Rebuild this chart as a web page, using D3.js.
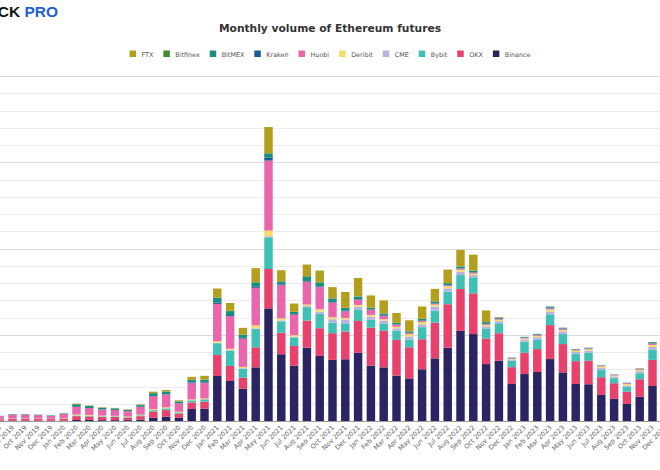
<!DOCTYPE html>
<html><head><meta charset="utf-8">
<script src="https://cdn.jsdelivr.net/npm/d3@7"></script>
<style>body{margin:0;background:#fff}svg{display:block}</style>
</head><body>
<svg id="chart" width="660" height="470"></svg>
<script>
const months = ["Aug 2019","Sep 2019","Oct 2019","Nov 2019","Dec 2019",
"Jan 2020","Feb 2020","Mar 2020","Apr 2020","May 2020","Jun 2020","Jul 2020","Aug 2020","Sep 2020","Oct 2020","Nov 2020","Dec 2020",
"Jan 2021","Feb 2021","Mar 2021","Apr 2021","May 2021","Jun 2021","Jul 2021","Aug 2021","Sep 2021","Oct 2021","Nov 2021","Dec 2021",
"Jan 2022","Feb 2022","Mar 2022","Apr 2022","May 2022","Jun 2022","Jul 2022","Aug 2022","Sep 2022","Oct 2022","Nov 2022","Dec 2022",
"Jan 2023","Feb 2023","Mar 2023","Apr 2023","May 2023","Jun 2023","Jul 2023","Aug 2023","Sep 2023","Oct 2023","Nov 2023","Dec 2023"];

// Monthly volume, billions USD
const binance = [1,1,1,1,1,2,
 6,6,5,5,5,8,20,25,18,70,72,
 261,232,187,311,653,387,321,425,377,354,358,396,
 321,311,263,247,300,363,425,522,504,330,350,215,
 272,284,359,282,215,213,151,128,99,141,203,300];
const okx = [9,12,12,11,10,13,
 22,20,18,18,15,20,35,38,25,38,40,
 122,87,64,116,228,125,114,157,161,155,160,184,
 220,212,207,180,174,207,252,243,236,149,159,97,
 124,133,197,164,132,137,103,91,71,101,151,200];
const bybit = [1,1,1,1,1,1,
 4,5,4,4,3,5,8,10,7,12,14,
 68,89,52,106,184,66,50,78,83,61,48,64,
 45,43,54,46,70,70,73,81,93,58,58,37,
 64,56,62,58,41,46,42,29,29,35,58,75];
const cme = [0,0,0,0,0,0,
 0,0,0,0,0,0,0,0,0,0,0,
 2,3,3,4,6,5,4,6,13,20,23,19,
 19,16,13,17,17,23,19,19,13,12,12,8,
 12,13,17,16,12,12,12,10,8,12,17,25];
const deribit = [1,1,1,1,1,2,
 5,4,4,3,3,4,6,6,4,5,5,
 9,8,8,17,33,12,8,9,14,12,8,10,
 10,8,10,13,13,12,12,12,8,8,8,4,
 6,8,12,8,8,8,8,6,8,8,12,15];
const huobi = [16,22,22,20,17,22,
 45,40,36,34,31,45,75,75,48,95,90,
 217,189,164,218,406,193,120,133,128,85,39,29,
 29,19,12,6,6,6,6,6,6,4,4,3,
 4,4,6,6,4,4,4,3,4,4,8,10];
const kraken = [0,0,0,0,0,0,
 0,0,0,0,0,0,1,1,1,3,3,
 9,6,4,6,17,4,3,4,4,3,3,3,
 2,2,2,2,2,2,2,2,2,2,2,1,
 2,2,4,2,2,2,1,1,1,1,2,2];
const bitmex = [2,3,3,3,3,4,
 15,12,10,9,7,10,16,15,10,15,15,
 26,23,17,25,22,16,12,26,23,20,16,16,
 10,12,8,8,10,10,10,10,10,10,6,2,
 3,4,6,4,2,2,1,1,1,2,6,8];
const bitfinex = [0,0,0,0,0,0,
 1,1,1,1,1,1,1,1,1,1,1,
 2,2,2,2,4,2,1,2,2,2,2,2,
 1,1,1,1,1,1,1,1,1,1,1,1,
 1,1,1,1,1,1,1,1,1,1,1,1];
const ftx = [0,0,0,0,0,1,
 3,2,2,2,2,3,8,9,6,17,22,
 52,45,39,81,151,64,48,67,67,64,91,106,
 71,75,56,64,71,72,78,96,91,67,3,0,
 0,0,0,0,0,0,0,0,0,0,0,0];

const seriesNames = ["Binance","OKX","Bybit","CME","Deribit","Huobi","Kraken","BitMEX","Bitfinex","FTX"];
const seriesValues = [binance, okx, bybit, cme, deribit, huobi, kraken, bitmex, bitfinex, ftx];
const seriesColors = ["#2b2462","#e8416c","#40c0b4","#b9b3e3","#f4dc6c","#e966ac","#1c5a93","#1c8c80","#3d8f2e","#b29f1e"];
const yTicks = d3.range(0, 2001, 100);

const title = "Monthly volume of Ethereum futures";

const table = months.map((m, i) => {
  const row = {month: m};
  seriesNames.forEach((s, k) => row[s] = seriesValues[k][i]);
  return row;
});

const svg = d3.select("#chart");
const x = d3.scaleBand().domain(months).range([-6.7, 671.7]).paddingInner(0.34).paddingOuter(0.17);
const y = d3.scaleLinear().domain([0, 2000]).range([421, 76]);
const color = d3.scaleOrdinal().domain(seriesNames).range(seriesColors);

// grid
svg.append("g").selectAll("line").data(yTicks.slice(1)).join("line")
  .attr("x1", 0).attr("x2", 660)
  .attr("y1", d => Math.round(y(d)) + 0.5).attr("y2", d => Math.round(y(d)) + 0.5)
  .attr("stroke", d => d % 500 === 0 ? "#dcdcdc" : "#ececec")
  .attr("stroke-width", 1);

// bars
const stack = d3.stack().keys(seriesNames)(table);
svg.append("g").selectAll("g").data(stack).join("g")
  .attr("fill", d => color(d.key))
  .selectAll("rect").data(d => d).join("rect")
  .attr("x", d => x(d.data.month))
  .attr("width", x.bandwidth())
  .attr("y", d => y(d[1]))
  .attr("height", d => Math.max(0, y(d[0]) - y(d[1])));

// x axis
svg.append("line").attr("x1", 0).attr("x2", 660)
  .attr("y1", y(0) + 0.5).attr("y2", y(0) + 0.5)
  .attr("stroke", "#9a9a9a").attr("stroke-width", 1);
svg.append("g").selectAll("text").data(months).join("text")
  .attr("transform", d => `translate(${x(d) + x.bandwidth() / 2 + 2},${428}) rotate(-45)`)
  .attr("text-anchor", "end")
  .attr("font-family", "DejaVu Sans, Verdana, sans-serif")
  .attr("font-size", 6.6)
  .attr("fill", "#666")
  .text(d => d);

// title
svg.append("text").attr("x", 330).attr("y", 32).attr("text-anchor", "middle")
  .attr("font-family", "DejaVu Sans, Verdana, sans-serif").attr("font-weight", "bold")
  .attr("font-size", 10.7).attr("fill", "#333").text(title);

// logo
const logo = svg.append("text").attr("x", 58).attr("y", 17).attr("text-anchor", "end")
  .attr("font-family", "Liberation Sans, Arial, sans-serif").attr("font-weight", "bold")
  .attr("font-size", 15.5);
logo.append("tspan").attr("fill", "#111").text("THE BLOCK ");
logo.append("tspan").attr("fill", "#1f5fd6").text("PRO");

// legend
const legendOrder = seriesNames.slice().reverse();
const lg = svg.append("g");
const items = lg.selectAll("g").data(legendOrder).join("g");
items.append("rect").attr("width", 6.5).attr("height", 6.5).attr("y", 50.5)
  .attr("fill", d => color(d));
items.append("text").attr("x", 12).attr("y", 57)
  .attr("font-family", "DejaVu Sans, Verdana, sans-serif").attr("font-size", 6.4)
  .attr("fill", "#555").text(d => d);
let widths = [];
items.each(function() { widths.push(12 + this.querySelector("text").getComputedTextLength()); });
const total = d3.sum(widths) + 10 * (widths.length - 1);
let cx = 330 - total / 2;
items.attr("transform", (d, i) => { const t = `translate(${cx},0)`; cx += widths[i] + 10; return t; });
</script>
</body></html>
